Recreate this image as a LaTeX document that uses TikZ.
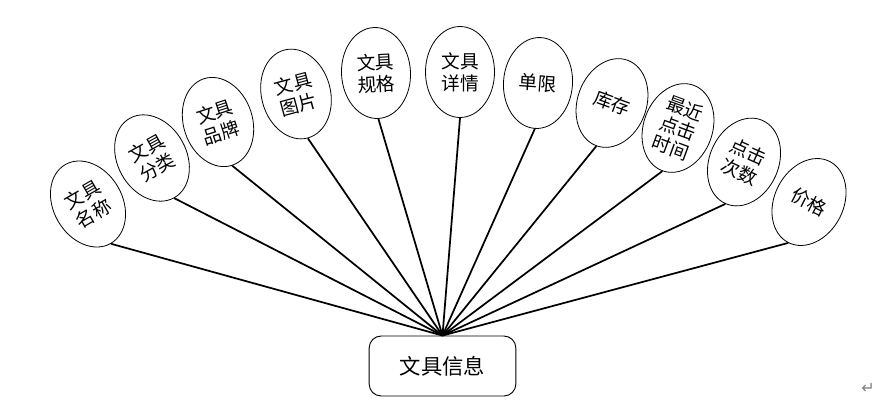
\documentclass[tikz,border=0pt]{standalone}
\usepackage{fontspec}
\newfontfamily\cjk{Noto Sans CJK SC}
\newfontfamily\dejavu{DejaVu Sans}
\usetikzlibrary{shapes.geometric}
\begin{document}
\begin{tikzpicture}[x=0.75pt,y=-0.75pt,
  ell/.style={draw, ellipse, inner sep=0pt, minimum width=51.75pt, minimum height=68.25pt, line width=0.6pt},
  lbl/.style={font=\cjk\fontsize{14}{16.5}\selectfont, align=center, inner sep=0pt},
  conn/.style={line width=1.3pt},
  hub/.style={draw, rounded corners=9pt, minimum width=110pt, minimum height=45pt, inner sep=0pt, font=\cjk\fontsize{16}{19}\selectfont, line width=0.7pt},
  mark/.style={}]
\useasboundingbox (0,0) rectangle (884,408);
\node[hub] (c) at (442.5,366) {文具信息};

\node[ell, rotate=30]  (e1)  at (88,204)  {};
\node[ell, rotate=29]  (e2)  at (152,158) {};
\node[ell, rotate=18]  (e3)  at (218,122) {};
\node[ell, rotate=15]  (e4)  at (296,94)  {};
\node[ell, rotate=3]   (e5)  at (376,73)  {};
\node[ell, rotate=0]   (e6)  at (460,72)  {};
\node[ell, rotate=-4]  (e7)  at (538,83)  {};
\node[ell, rotate=-20] (e8)  at (612,103) {};
\node[ell, rotate=-20] (e9)  at (678,128) {};
\node[ell, rotate=-24] (e10) at (744,162) {};
\node[ell, rotate=-27] (e11) at (809,202) {};

\node[lbl, rotate=30]  (t1)  at (e1)  {文具\\名称};
\node[lbl, rotate=29]  (t2)  at (e2)  {文具\\分类};
\node[lbl, rotate=18]  (t3)  at (e3)  {文具\\品牌};
\node[lbl, rotate=15]  (t4)  at (e4)  {文具\\图片};
\node[lbl, rotate=3]   (t5)  at (e5)  {文具\\规格};
\node[lbl, rotate=0]   (t6)  at (e6)  {文具\\详情};
\node[lbl, rotate=-4]  (t7)  at (e7)  {单限};
\node[lbl, rotate=-20] (t8)  at (e8)  {库存};
\node[lbl, rotate=-20, font=\cjk\fontsize{14}{15.5}\selectfont] (t9) at (e9) {最近\\点击\\时间};
\node[lbl, rotate=-24] (t10) at (e10) {点击\\次数};
\node[lbl, rotate=-27] (t11) at (e11) {价格};

\foreach \i in {1,...,11} {
  \draw[conn] (c.north) -- (e\i.south);
}

\node[text=gray, font=\dejavu\fontsize{12}{14}\selectfont, inner sep=0pt] (pm) at (868,388) {↵};
\end{tikzpicture}
\end{document}
